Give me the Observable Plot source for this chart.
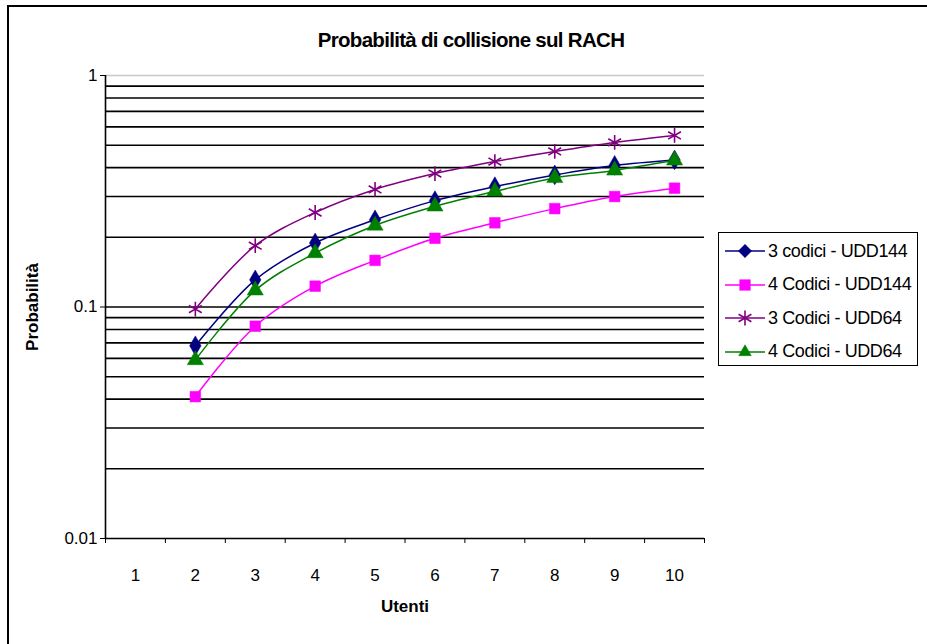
<!DOCTYPE html>
<html>
<head>
<meta charset="utf-8">
<script src="https://cdn.jsdelivr.net/npm/d3@7"></script>
<script src="https://cdn.jsdelivr.net/npm/@observablehq/plot@0.6"></script>
<style>
  html, body { margin: 0; padding: 0; background: #fff; overflow: hidden; }
  #wrap { position: relative; width: 927px; height: 644px; font-family: "Liberation Sans", Arial, sans-serif; }
  #border { position: absolute; left: 7px; top: 5px; width: 940px; height: 700px; border-left: 2px solid #000; border-top: 2px solid #000; }
  #title { position: absolute; left: 0; width: 942px; top: 28px; text-align: center; font-weight: bold; font-size: 20.5px; letter-spacing: -0.7px; color: #000; }
  #chart { position: absolute; left: 0; top: 0; }
  #legend { position: absolute; left: 718px; top: 232px; width: 198px; height: 132px; border: 1.5px solid #000; background: #fff; }
  .item { position: absolute; left: 6px; height: 24px; display: flex; align-items: center; font-size: 18px; letter-spacing: -0.4px; color: #000; white-space: nowrap; }
  .item svg { margin-right: 3px; }
</style>
</head>
<body>
<div id="wrap">
  <div id="border"></div>
  <div id="title">Probabilità di collisione sul RACH</div>
  <div id="chart"></div>
  <div id="legend"></div>
</div>
<script>
// ---- data ----
const categories = [1, 2, 3, 4, 5, 6, 7, 8, 9, 10];
const users = [2, 3, 4, 5, 6, 7, 8, 9, 10];
const seriesNames = ["3 codici - UDD144", "4 Codici - UDD144", "3 Codici - UDD64", "4 Codici - UDD64"];
const s3codiciUDD144 = [0.068, 0.131, 0.189, 0.238, 0.288, 0.331, 0.372, 0.409, 0.432];
const s4codiciUDD144 = [0.041, 0.0826, 0.123, 0.159, 0.198, 0.231, 0.266, 0.300, 0.326];
const s3codiciUDD64 = [0.098, 0.184, 0.256, 0.322, 0.377, 0.425, 0.470, 0.514, 0.551];
const s4codiciUDD64 = [0.059, 0.118, 0.171, 0.225, 0.272, 0.316, 0.361, 0.389, 0.430];
const yTicks = [0.01, 0.1, 1];
const yTickLabels = ["0.01", "0.1", "1"];
const yGrid = [0.02, 0.03, 0.04, 0.05, 0.06, 0.07, 0.08, 0.09, 0.1, 0.2, 0.3, 0.4, 0.5, 0.6, 0.7, 0.8, 0.9];

const styles = [
  {color: "#000080", symbol: "diamond", filled: true, r: 6},
  {color: "#ff00ff", symbol: "square", filled: true, r: 6},
  {color: "#800080", symbol: "asterisk", filled: false, r: 7},
  {color: "#008000", symbol: "triangle", filled: true, r: 6}
];
const allValues = [s3codiciUDD144, s4codiciUDD144, s3codiciUDD64, s4codiciUDD64];
const series = allValues.map((vals, i) => users.map((u, j) => ({name: seriesNames[i], x: u, y: vals[j]})));

const boundaries = [...categories.map(c => c - 0.5), categories[categories.length - 1] + 0.5];

const marks = [
  Plot.ruleY(yGrid, {stroke: "#000", strokeWidth: 1.6}),
  Plot.ruleY([1], {stroke: "#c8c8c8", strokeWidth: 1.6}),
  Plot.ruleY([0.01], {stroke: "#000", strokeWidth: 1.6}),
  Plot.ruleX([boundaries[0]], {stroke: "#000", strokeWidth: 1.6}),
  Plot.axisY({ticks: yTicks, tickFormat: (d) => yTickLabels[yTicks.indexOf(d)], tickSize: 5, tickPadding: 3, fontSize: 17,
    label: "Probabilità", labelAnchor: "center", labelArrow: "none", labelOffset: 80}),
  Plot.axisX({ticks: boundaries, tickFormat: () => "", tickSize: 5, label: null}),
  Plot.axisX({ticks: categories, tickSize: 0, tickPadding: 30, fontSize: 17,
    label: "Utenti", labelAnchor: "center", labelArrow: "none", labelOffset: 73})
];
series.forEach((data, i) => {
  const s = styles[i];
  marks.push(Plot.line(data, {x: "x", y: "y", stroke: s.color, strokeWidth: 1.5, curve: "catmull-rom"}));
  marks.push(Plot.dot(data, s.filled
    ? {x: "x", y: "y", symbol: () => s.symbol, fill: s.color, stroke: s.color, strokeWidth: 0.5, r: s.r}
    : {x: "x", y: "y", symbol: () => s.symbol, stroke: s.color, strokeWidth: 1.6, fill: "none", r: s.r}));
});

const chart = Plot.plot({
  width: 927,
  height: 644,
  marginLeft: 105,
  marginRight: 223,
  marginTop: 75,
  marginBottom: 106,
  style: {fontFamily: "Liberation Sans, Arial, sans-serif", fontSize: "17px", color: "#000", background: "transparent", overflow: "visible"},
  x: {type: "linear", domain: [boundaries[0], boundaries[boundaries.length - 1]], axis: null},
  y: {type: "log", domain: [0.01, 1], axis: null},
  symbol: {type: "identity"},
  marks
});
document.getElementById("chart").appendChild(chart);

// style the axis labels bold
chart.querySelectorAll("[aria-label='y-axis label'] text, [aria-label='x-axis label'] text").forEach(t => {
  t.setAttribute("font-weight", "bold");
});

// ---- legend ----
const legend = document.getElementById("legend");
seriesNames.forEach((name, i) => {
  const s = styles[i];
  const item = document.createElement("div");
  item.className = "item";
  item.style.top = (6 + i * 33.5) + "px";
  const svg = d3.create("svg").attr("width", 40).attr("height", 20);
  svg.append("line").attr("x1", 0).attr("x2", 40).attr("y1", 10).attr("y2", 10).attr("stroke", s.color).attr("stroke-width", 1.5);
  const sym = {diamond: d3.symbolDiamond2, square: d3.symbolSquare, asterisk: d3.symbolAsterisk, triangle: d3.symbolTriangle2}[s.symbol];
  const p = svg.append("path").attr("transform", "translate(20,10)").attr("d", d3.symbol(sym, Math.PI * s.r * s.r)());
  if (s.filled) p.attr("fill", s.color).attr("stroke", s.color).attr("stroke-width", 0.5);
  else p.attr("fill", "none").attr("stroke", s.color).attr("stroke-width", 1.6);
  item.appendChild(svg.node());
  const span = document.createElement("span");
  span.textContent = name;
  item.appendChild(span);
  legend.appendChild(item);
});
</script>
</body>
</html>
